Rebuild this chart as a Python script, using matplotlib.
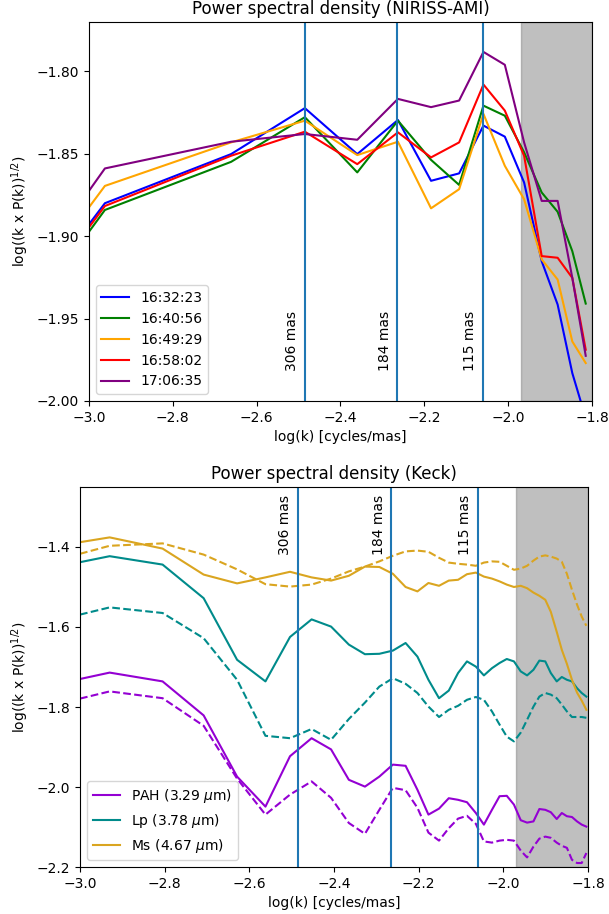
import numpy as np
import matplotlib.pyplot as plt

# --- NIRISS-AMI: azimuthally averaged PSD per exposure ---
k_ami = [-3.0, -2.962, -2.661, -2.485, -2.360, -2.263, -2.184, -2.117,
         -2.059, -2.008, -1.962, -1.920, -1.882, -1.847, -1.815]
epochs = ["16:32:23", "16:40:56", "16:49:29", "16:58:02", "17:06:35"]
epoch_colors = ["blue", "green", "orange", "red", "purple"]
psd_ami = [
    [-1.8928, -1.8800, -1.8502, -1.8223, -1.8502, -1.8295, -1.8664, -1.8619,
     -1.8329, -1.8396, -1.8674, -1.9152, -1.9415, -1.9831, -2.0104],
    [-1.8973, -1.8841, -1.8549, -1.8278, -1.8613, -1.8299, -1.8537, -1.8689,
     -1.8208, -1.8269, -1.8491, -1.8735, -1.8852, -1.9091, -1.9409],
    [-1.8825, -1.8695, -1.8431, -1.8299, -1.8508, -1.8427, -1.8831, -1.8715,
     -1.8258, -1.8573, -1.8776, -1.9141, -1.9263, -1.9639, -1.9770],
    [-1.8946, -1.8817, -1.8512, -1.8366, -1.8563, -1.8370, -1.8522, -1.8431,
     -1.8080, -1.8238, -1.8512, -1.9121, -1.9131, -1.9253, -1.9689],
    [-1.8725, -1.8589, -1.8427, -1.8380, -1.8415, -1.8167, -1.8217, -1.8177,
     -1.7882, -1.7960, -1.8431, -1.8786, -1.8786, -1.9253, -1.9726],
]

# --- Keck: solid = science target, dashed = calibrator ---
k_keck = [-3.0, -2.930, -2.805, -2.708, -2.629, -2.562, -2.504, -2.453,
          -2.407, -2.365, -2.327, -2.293, -2.261, -2.231, -2.203, -2.177,
          -2.152, -2.129, -2.107, -2.086, -2.065, -2.046, -2.027, -2.009,
          -1.992, -1.975, -1.959, -1.944, -1.929, -1.915, -1.901, -1.888,
          -1.874, -1.862, -1.850, -1.838, -1.826, -1.815, -1.804]
bands = [r"PAH (3.29 $\mu$m)", r"Lp (3.78 $\mu$m)", r"Ms (4.67 $\mu$m)"]
band_colors = ["darkviolet", "darkcyan", "goldenrod"]
psd_sci = [
    [-1.730, -1.714, -1.736, -1.821, -1.974, -2.049, -1.923, -1.878, -1.906,
     -1.982, -1.999, -1.974, -1.944, -1.947, -2.007, -2.069, -2.054, -2.028,
     -2.032, -2.038, -2.065, -2.094, -2.057, -2.023, -2.022, -2.044, -2.083,
     -2.089, -2.086, -2.055, -2.057, -2.063, -2.080, -2.065, -2.073, -2.075,
     -2.086, -2.094, -2.099],
    [-1.438, -1.423, -1.444, -1.528, -1.682, -1.736, -1.625, -1.581, -1.599,
     -1.644, -1.668, -1.667, -1.659, -1.640, -1.674, -1.732, -1.778, -1.759,
     -1.715, -1.686, -1.699, -1.721, -1.703, -1.690, -1.680, -1.686, -1.711,
     -1.721, -1.707, -1.684, -1.686, -1.715, -1.736, -1.725, -1.732, -1.736,
     -1.753, -1.765, -1.774],
    [-1.388, -1.376, -1.404, -1.469, -1.491, -1.476, -1.462, -1.476, -1.484,
     -1.472, -1.449, -1.450, -1.467, -1.500, -1.511, -1.490, -1.497, -1.484,
     -1.482, -1.468, -1.464, -1.474, -1.479, -1.486, -1.494, -1.500, -1.497,
     -1.503, -1.514, -1.522, -1.532, -1.562, -1.612, -1.657, -1.692, -1.732,
     -1.764, -1.784, -1.807],
]
psd_cal = [
    [-1.779, -1.761, -1.778, -1.847, -1.979, -2.069, -2.019, -1.986, -2.027,
     -2.090, -2.117, -2.057, -2.002, -2.008, -2.052, -2.114, -2.134, -2.103,
     -2.079, -2.072, -2.092, -2.136, -2.139, -2.134, -2.132, -2.134, -2.159,
     -2.176, -2.149, -2.129, -2.124, -2.127, -2.139, -2.147, -2.152, -2.182,
     -2.190, -2.190, -2.165],
    [-1.569, -1.551, -1.565, -1.628, -1.732, -1.872, -1.878, -1.855, -1.882,
     -1.830, -1.789, -1.749, -1.728, -1.742, -1.765, -1.799, -1.825, -1.807,
     -1.797, -1.782, -1.775, -1.782, -1.811, -1.844, -1.874, -1.886, -1.864,
     -1.832, -1.799, -1.774, -1.765, -1.769, -1.778, -1.794, -1.811, -1.825,
     -1.825, -1.825, -1.827],
    [-1.417, -1.397, -1.391, -1.419, -1.456, -1.493, -1.499, -1.494, -1.479,
     -1.461, -1.449, -1.436, -1.422, -1.411, -1.409, -1.412, -1.427, -1.439,
     -1.442, -1.444, -1.447, -1.439, -1.436, -1.437, -1.447, -1.457, -1.454,
     -1.447, -1.434, -1.424, -1.421, -1.424, -1.429, -1.437, -1.467, -1.507,
     -1.544, -1.574, -1.597],
]

# angular scales marked on both panels (mas)
scales_mas = [306, 184, 115]
cutoff = -1.97

ylab = r"log((k x P(k))$^{1/2}$)"
xlab = "log(k) [cycles/mas]"

fig = plt.figure(figsize=(6.09, 9.14), dpi=100)
ax1 = fig.add_axes([0.1461, 0.5613, 0.826, 0.4147])
ax2 = fig.add_axes([0.1314, 0.0514, 0.8342, 0.4158])

# ==== top: NIRISS-AMI ====
ax1.axvspan(cutoff, -1.8, color="grey", alpha=0.5)
for lab, c, y in zip(epochs, epoch_colors, psd_ami):
    ax1.plot(k_ami, y, color=c, label=lab)
for s in scales_mas:
    xs = np.log10(1.0 / s)
    ax1.axvline(xs, color="tab:blue")
    ax1.text(xs - 0.03, -1.982, f"{s} mas", rotation=90, ha="center", va="bottom")
ax1.set_xlim(-3.0, -1.8)
ax1.set_ylim(-2.0, -1.77)
ax1.set_yticks([-2.0, -1.95, -1.9, -1.85, -1.8])
ax1.set_title("Power spectral density (NIRISS-AMI)")
ax1.set_xlabel(xlab)
ax1.set_ylabel(ylab)
ax1.legend(loc="lower left")

# ==== bottom: Keck ====
ax2.axvspan(cutoff, -1.8, color="grey", alpha=0.5)
for lab, c, ys, yc in zip(bands, band_colors, psd_sci, psd_cal):
    ax2.plot(k_keck, ys, color=c, label=lab)
    ax2.plot(k_keck, yc, color=c, linestyle="--")
for s in scales_mas:
    xs = np.log10(1.0 / s)
    ax2.axvline(xs, color="tab:blue")
    ax2.text(xs - 0.03, -1.42, f"{s} mas", rotation=90, ha="center", va="bottom")
ax2.set_xlim(-3.0, -1.8)
ax2.set_ylim(-2.2, -1.25)
ax2.set_title("Power spectral density (Keck)")
ax2.set_xlabel(xlab)
ax2.set_ylabel(ylab)
ax2.legend(loc="lower left")

fig.savefig("out.png", dpi=100)
